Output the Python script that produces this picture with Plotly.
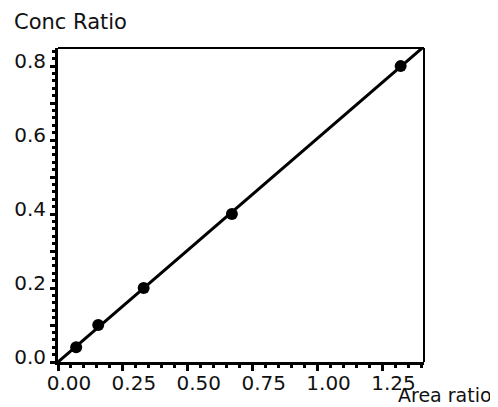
import plotly.graph_objects as go

# Data
area_ratio = [0.07, 0.155, 0.33, 0.67, 1.32]
conc_ratio = [0.04, 0.10, 0.20, 0.40, 0.80]
fit_slope = 0.605
fit_intercept = 0.0

x_range = [0, 1.41]
y_range = [0, 0.849]

x_tickvals = [0, 0.25, 0.5, 0.75, 1.0, 1.25]
x_ticktext = ["0.00", "0.25", "0.50", "0.75", "1.00", "1.25"]
y_tickvals = [0, 0.1, 0.2, 0.3, 0.4, 0.5, 0.6, 0.7, 0.8]
y_ticktext = ["0.0", "", "0.2", "", "0.4", "", "0.6", "", "0.8"]

fit_x = [x_range[0], x_range[1]]
fit_y = [fit_intercept + fit_slope * v for v in fit_x]

FONT = "DejaVu Sans"
FS = 20

ML, MR, MT, MB = 50, 82, 40, 53
W, H = 498, 407
PW, PH = W - ML - MR, H - MT - MB

fig = go.Figure()
fig.add_trace(go.Scatter(x=fit_x, y=fit_y, mode="lines",
                         line=dict(color="black", width=3),
                         showlegend=False))
fig.add_trace(go.Scatter(x=area_ratio, y=conc_ratio, mode="markers",
                         marker=dict(color="black", size=12, symbol="circle"),
                         showlegend=False))

fig.update_layout(
    width=W, height=H,
    margin=dict(l=ML, r=MR, t=MT, b=MB),
    paper_bgcolor="white", plot_bgcolor="white",
    font=dict(family=FONT, size=FS, color="#111111"),
    xaxis=dict(range=x_range, tickvals=x_tickvals, ticktext=x_ticktext,
               showgrid=False, zeroline=False, automargin=False,
               showline=True, linecolor="black", linewidth=3,
               ticks="outside", ticklen=6, tickwidth=2.5, tickcolor="black",
               ticklabelshift=11, ticklabelstandoff=-5,
               minor=dict(dtick=0.05, ticks="outside", ticklen=3, tickwidth=2.5,
                          tickcolor="black", showgrid=False)),
    yaxis=dict(range=y_range, tickvals=y_tickvals, ticktext=y_ticktext,
               showgrid=False, zeroline=False, automargin=False,
               showline=True, linecolor="black", linewidth=3,
               ticks="outside", ticklen=5, tickwidth=2.5, tickcolor="black",
               ticklabelshift=-5,
               minor=dict(dtick=0.02, ticks="outside", ticklen=3, tickwidth=2.5,
                          tickcolor="black", showgrid=False)),
    shapes=[
        dict(type="line", xref="paper", yref="paper", x0=0, x1=1, y0=1, y1=1,
             line=dict(color="black", width=2)),
        dict(type="line", xref="paper", yref="paper", x0=1, x1=1, y0=0, y1=1,
             line=dict(color="black", width=2)),
    ],
    annotations=[
        dict(text="Conc Ratio", xref="paper", yref="paper",
             x=(4 - ML) / PW, y=1 + (MT - 14) / PH, xanchor="left", yanchor="middle",
             showarrow=False, font=dict(family=FONT, size=21)),
        dict(text="Area ratio", xref="paper", yref="paper",
             x=(388 - ML) / PW, y=-(387 - (H - MB)) / PH, xanchor="left",
             yanchor="middle", showarrow=False, font=dict(family=FONT, size=19)),
    ],
)

fig.write_html("out.html")
